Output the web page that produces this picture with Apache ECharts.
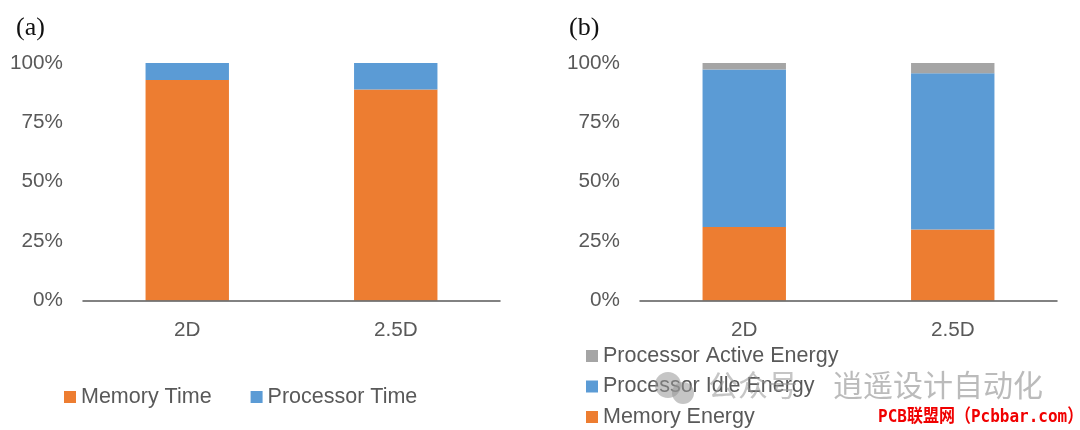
<!DOCTYPE html>
<html><head><meta charset="utf-8">
<script src="https://cdn.jsdelivr.net/npm/echarts@6/dist/echarts.min.js"></script>
<style>html,body{margin:0;padding:0;background:#fff}#c{width:1080px;height:430px}</style>
</head><body><div id="c"></div>
<script>
const categories = ['2D', '2.5D'];
const yTicks = [0, 25, 50, 75, 100];
const memoryTime = [92.8, 88.8];
const processorTime = [7.2, 11.2];
const memoryEnergy = [30.9, 29.9];
const processorIdleEnergy = [66.4, 65.8];
const processorActiveEnergy = [2.7, 4.3];

const ORANGE = '#ED7D31', BLUE = '#5B9BD5', GRAY = '#A5A5A5', TXT = '#595959';
const SANS = '"Liberation Sans", Arial, sans-serif';

const chart = echarts.init(document.getElementById('c'), null, {renderer: 'canvas'});
const xAxisFor = (i) => ({
  type: 'category', gridIndex: i, data: categories, z: 5,
  axisTick: {show: false},
  axisLine: {lineStyle: {color: '#595959', width: 1.5}},
  axisLabel: {color: TXT, fontFamily: SANS, fontSize: 20.7, margin: 19}
});
const yAxisFor = (i) => ({
  type: 'value', gridIndex: i, min: yTicks[0], max: yTicks[yTicks.length - 1], interval: 25,
  splitLine: {show: false}, axisLine: {show: false}, axisTick: {show: false},
  axisLabel: {color: TXT, fontFamily: SANS, fontSize: 20.7, margin: 20, padding: [4, 0, 0, 0], formatter: '{value}%'}
});
const bar = (name, data, color, i) => ({
  name, type: 'bar', stack: 's' + i, data, xAxisIndex: i, yAxisIndex: i,
  barWidth: '40%', itemStyle: {color}
});
const legendText = {color: TXT, fontFamily: SANS, fontSize: 21.5};

chart.setOption({
  animation: false,
  backgroundColor: '#fff',
  grid: [
    {left: 83, width: 417, top: 63, height: 237.5},
    {left: 640, width: 417, top: 63, height: 237.5}
  ],
  xAxis: [xAxisFor(0), xAxisFor(1)],
  yAxis: [yAxisFor(0), yAxisFor(1)],
  legend: [
    {data: ['Memory Time', 'Processor Time'], left: 64, top: 386, orient: 'horizontal',
     icon: 'rect', itemWidth: 12, itemHeight: 12, itemGap: 39, textStyle: legendText, padding: 0,
     selectedMode: false},
    {data: ['Processor Active Energy', 'Processor Idle Energy', 'Memory Energy'], left: 586, top: 345,
     orient: 'vertical', icon: 'rect', itemWidth: 12, itemHeight: 12, itemGap: 8.5, textStyle: legendText,
     padding: 0, selectedMode: false}
  ],
  series: [
    bar('Memory Time', memoryTime, ORANGE, 0),
    bar('Processor Time', processorTime, BLUE, 0),
    bar('Memory Energy', memoryEnergy, ORANGE, 1),
    bar('Processor Idle Energy', processorIdleEnergy, BLUE, 1),
    bar('Processor Active Energy', processorActiveEnergy, GRAY, 1)
  ],
  graphic: [
    {type: 'text', left: 16, top: 15, style: {text: '(a)', fill: '#111', font: '26px "Liberation Serif", serif'}},
    {type: 'text', left: 569, top: 15, style: {text: '(b)', fill: '#111', font: '26px "Liberation Serif", serif'}},
    {type: 'circle', z: 20, shape: {cx: 668, cy: 385, r: 13}, style: {fill: 'rgba(150,150,150,0.55)'}},
    {type: 'circle', z: 20, shape: {cx: 683, cy: 393, r: 11}, style: {fill: 'rgba(150,150,150,0.55)'}},
    {type: 'text', z: 20, left: 708, top: 370, style: {text: '公众号', fill: 'rgba(150,150,150,0.55)', font: '30px "Noto Sans CJK SC"'}},
    {type: 'text', z: 20, left: 833, top: 370, style: {text: '逍遥设计自动化', fill: 'rgba(150,150,150,0.65)', font: '30px "Noto Sans CJK SC"'}},
    {type: 'text', z: 21, x: 878, y: 408, scaleY: 1.15, style: {text: 'PCB联盟网（Pcbbar.com）', fill: '#f00000', font: 'bold 16px "DejaVu Sans Mono", "Noto Sans CJK SC", monospace'}}
  ]
});
</script></body></html>
